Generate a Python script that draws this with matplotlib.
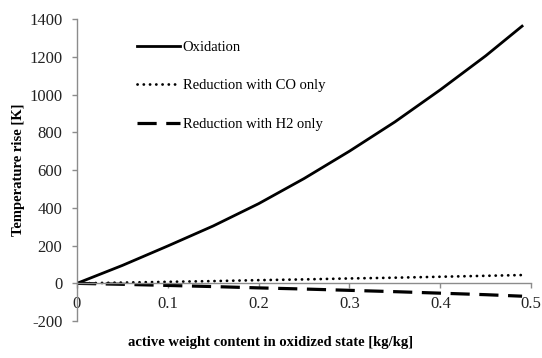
import matplotlib
matplotlib.use("Agg")
import matplotlib.pyplot as plt

# active weight content [kg/kg] and temperature rise [K]
x_vals = [0.0, 0.05, 0.1, 0.15, 0.2, 0.25, 0.3, 0.35, 0.4, 0.45, 0.49]
oxidation = [0, 95, 198, 304, 422, 555, 700, 855, 1025, 1205, 1362]
red_co = [0, 4, 8, 12, 17, 21, 26, 30, 35, 40, 44]
red_h2 = [0, -5, -11, -17, -24, -30, -37, -44, -52, -60, -68]

labels = ["Oxidation", "Reduction with CO only", "Reduction with H2 only"]
xticks = [0, 0.1, 0.2, 0.3, 0.4, 0.5]
yticks = [-200, 0, 200, 400, 600, 800, 1000, 1200, 1400]

plt.rcParams['font.family'] = ['Liberation Serif', 'DejaVu Serif']
plt.rcParams['axes.unicode_minus'] = False
grey = '#8c8c8c'

fig = plt.figure(figsize=(5.42, 3.58), dpi=100)
ax = fig.add_axes([0.142, 0.103, 0.838, 0.844])

ax.plot(x_vals, oxidation, color='black', lw=2.0, label=labels[0])
ax.plot(x_vals, red_co, color='black', lw=2.0, linestyle=(0, (0.05, 2.2)),
        dash_capstyle='round', label=labels[1])
ax.plot(x_vals, red_h2, color='black', lw=2.3, linestyle=(0, (6.0, 3.0)),
        label=labels[2])

ax.set_xlim(0, 0.5)
ax.set_ylim(-200, 1400)
ax.set_xticks(xticks)
ax.set_xticklabels(['0', '0.1', '0.2', '0.3', '0.4', '0.5'])
ax.set_yticks(yticks)

for side in ('top', 'right'):
    ax.spines[side].set_visible(False)
ax.spines['bottom'].set_position(('data', 0))
for side in ('left', 'bottom'):
    ax.spines[side].set_color(grey)
    ax.spines[side].set_linewidth(1.0)

ax.tick_params(axis='both', colors=grey, labelcolor='#222222', labelsize=12,
               length=3.5, width=1.0)
ax.tick_params(axis='x', pad=5.5)
ax.tick_params(axis='y', pad=7)

ax.set_ylabel('Temperature rise [K]', fontsize=10.5, fontweight='bold', labelpad=3)
fig.text(0.5, 0.042, 'active weight content in oxidized state [kg/kg]',
         ha='center', va='center', fontsize=10.5, fontweight='bold')

leg = ax.legend(loc='upper left', bbox_to_anchor=(0.12, 0.948), frameon=False,
                fontsize=10.5, handlelength=2.9, handletextpad=0.2,
                labelspacing=1.75, borderaxespad=0)

fig.savefig('out.png', dpi=100)
